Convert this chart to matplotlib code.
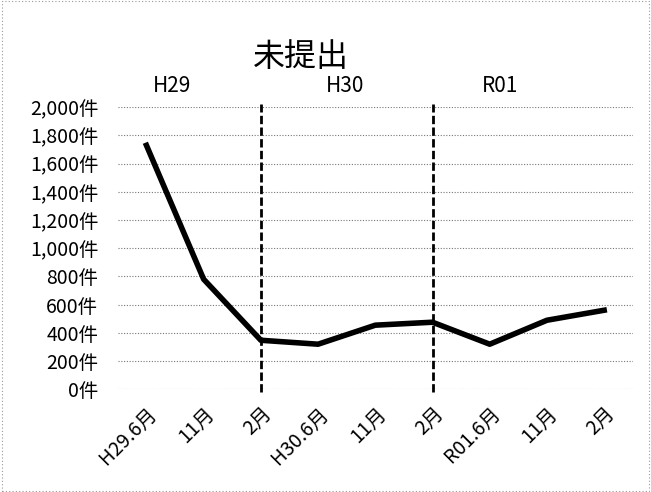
import matplotlib.pyplot as plt
from matplotlib.patches import Rectangle

plt.rcParams['font.family'] = ['Noto Sans CJK JP', 'DejaVu Sans']

# データ
months = ['H29.6月', '11月', '2月', 'H30.6月', '11月', '2月', 'R01.6月', '11月', '2月']
counts = [1730, 780, 347, 319, 454, 475, 319, 489, 560]
year_labels = ['H29', 'H30', 'R01']
year_label_pos = [0.45, 3.47, 6.18]
divider_pos = [2, 5]
y_ticks = list(range(0, 2001, 200))

fig = plt.figure(figsize=(6.51, 4.92), dpi=100)
ax = fig.add_axes([0.181, 0.209, 0.791, 0.573])

x = list(range(len(months)))
ax.plot(x, counts, color='black', lw=4, solid_joinstyle='round', zorder=3)

# 年度の区切り (破線)
for d in divider_pos:
    ax.axvline(d, ymin=-0.01, ymax=1.01, color='black', lw=2, ls=(0, (3, 1.2)),
               zorder=2, clip_on=False)

ax.set_xlim(-0.5, len(months) - 0.5)
ax.set_ylim(0, 2000)
ax.set_yticks(y_ticks)
ax.set_yticklabels([f'{v:,}件' for v in y_ticks], fontsize=14)
ax.set_xticks(x)
ax.set_xticklabels(months, rotation=45, ha='right', rotation_mode='anchor', fontsize=14)
ax.tick_params(length=0)
ax.tick_params(axis='y', pad=14)
ax.tick_params(axis='x', pad=10)

ax.grid(axis='y', color='#777777', lw=0.8, ls=(0, (1, 1.5)))
for s in ax.spines.values():
    s.set_visible(False)

# 年度ラベル
for lbl, p in zip(year_labels, year_label_pos):
    ax.text(p, 2150, lbl, fontsize=15, ha='center', va='center')

fig.text(0.462, 0.885, '未提出', fontsize=23, ha='center', va='center')

# 枠 (点線)
fig.patches.append(Rectangle((0.003, 0.003), 0.994, 0.994, transform=fig.transFigure,
                             fill=False, ec='#999999', lw=0.8, ls=(0, (1, 2))))

fig.savefig('out.png', dpi=100)
